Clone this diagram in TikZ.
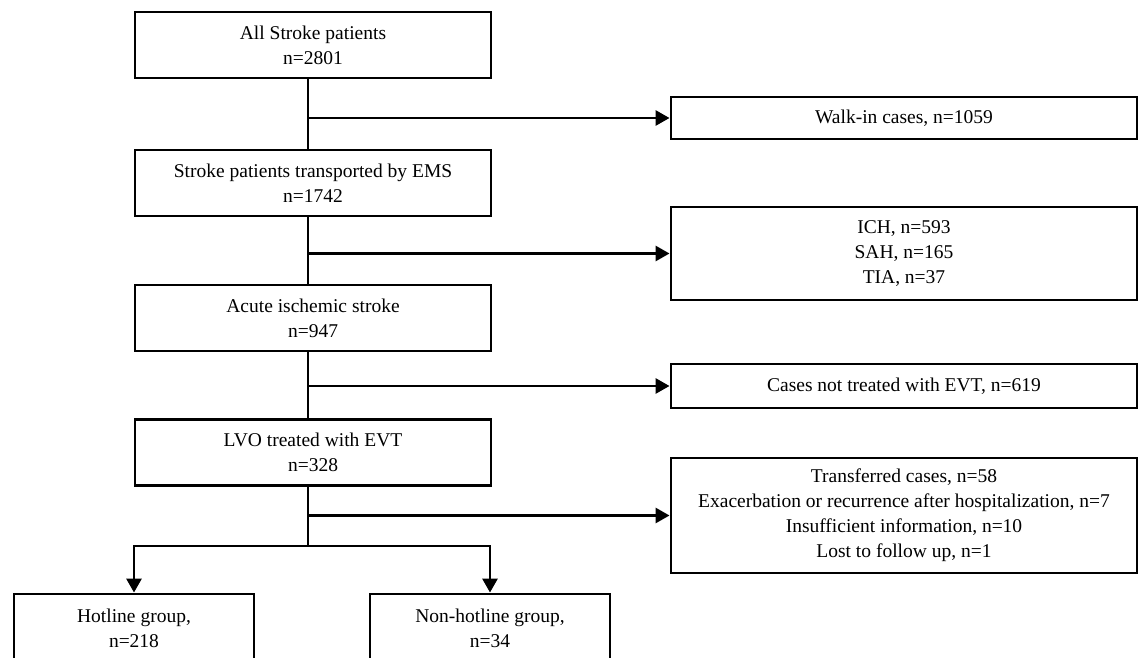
\documentclass[tikz,border=0pt]{standalone}
\usepackage{fontspec}
\setmainfont{Liberation Serif}
\usetikzlibrary{arrows.meta,calc}

\begin{document}
\begin{tikzpicture}[x=1pt, y=-1pt,
	box/.style={draw, line width=2.9pt, align=center, inner sep=0pt,
		font=\fontsize{19.5}{25}\selectfont},
	mainbox/.style={box, minimum width=356pt, minimum height=66pt},
	sidebox/.style={box, minimum width=466pt},
	line/.style={line width=2.9pt},
	arr/.style={line width=2.9pt, -{Triangle[length=14pt, width=15pt]}}]
		%%%%% START %%%%%
		\useasboundingbox (0, 0) rectangle (1141, 658);
		\clip (0, 0) rectangle (1141, 658);
		
		\node[mainbox] (all) at (313, 45) {All Stroke patients\\n=2801};
		\node[mainbox] (ems) at (313, 183) {Stroke patients transported by EMS\\n=1742};
		\node[mainbox] (ais) at (313, 318) {Acute ischemic stroke\\n=947};
		\node[mainbox] (lvo) at (313, 452.5) {LVO treated with EVT\\n=328};
		
		\node[sidebox, minimum height=42pt] (walkin) at (904, 118) {Walk-in cases, n=1059};
		\node[sidebox, minimum height=93pt] (hem) at (904, 253.5) {ICH, n=593\\SAH, n=165\\TIA, n=37};
		\node[sidebox, minimum height=44pt] (noevt) at (904, 386) {Cases not treated with EVT, n=619};
		\node[sidebox, minimum height=115pt] (excl) at (904, 515.5) {Transferred cases, n=58\\Exacerbation or recurrence after hospitalization, n=7\\Insufficient information, n=10\\Lost to follow up, n=1};
		
		\node[box, minimum width=240pt, minimum height=68pt] (hot) at (134, 628) {Hotline group,\\n=218};
		\node[box, minimum width=240pt, minimum height=68pt] (nonhot) at (490, 628) {Non-hotline group,\\n=34};
		
		% trunk sits a little left of the box centres
		\coordinate (trunk) at (308, 0);
		\draw[line] (trunk |- all.south) -- (trunk |- ems.north);
		\draw[line] (trunk |- ems.south) -- (trunk |- ais.north);
		\draw[line] (trunk |- ais.south) -- (trunk |- lvo.north);
		
		\draw[arr] (trunk |- walkin.west) -- (walkin.west);
		\draw[arr] (trunk |- hem.west) -- (hem.west);
		\draw[arr] (trunk |- noevt.west) -- (noevt.west);
		\draw[arr] (trunk |- excl.west) -- (excl.west);
		
		\coordinate (split) at (308, 546);
		\draw[line] (trunk |- lvo.south) -- (split);
		\draw[arr] (split) -| (hot.north);
		\draw[arr] (split) -| (nonhot.north);
		
		%%%%% END %%%%%
	\end{tikzpicture}
\end{document}
